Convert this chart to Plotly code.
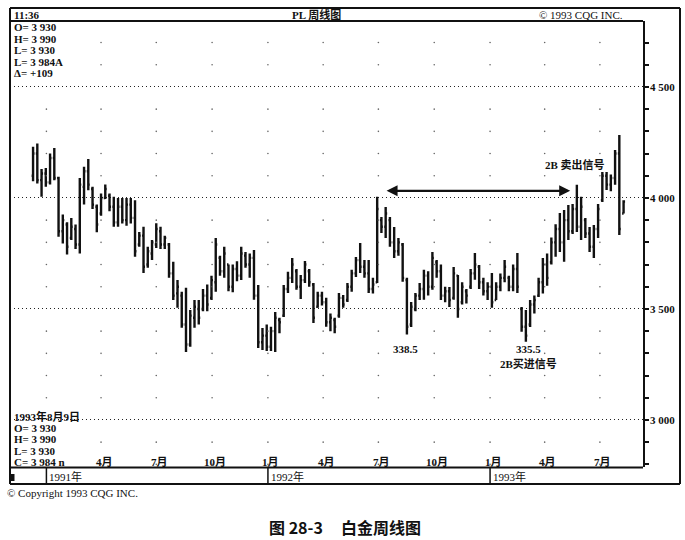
import pandas as pd
import plotly.graph_objects as go

# ---------------- data (weekly platinum) ----------------
start_date = "1990-12-10"
n_weeks = 140

high = [4230, 4245, 4130, 4135, 4200, 4225, 4095, 3925, 3890, 3910,
        3880, 4090, 4140, 4175, 4050, 3970, 4020, 4060, 4020, 4005,
        4000, 4000, 4000, 4000, 3990, 3847, 3870, 3780, 3810, 3886,
        3870, 3830, 3797, 3712, 3630, 3577, 3595, 3495, 3540, 3540,
        3590, 3610, 3650, 3820, 3740, 3780, 3700, 3700, 3715, 3780,
        3757, 3750, 3766, 3608, 3414, 3430, 3420, 3486, 3460, 3608,
        3667, 3730, 3680, 3653, 3716, 3680, 3617, 3577, 3577, 3550,
        3480, 3460, 3572, 3563, 3617, 3676, 3734, 3797, 3720, 3720,
        3640, 4005, 3914, 3959, 3914, 3869, 3820, 3797, 3640, 3531,
        3572, 3617, 3676, 3670, 3757, 3720, 3700, 3600, 3599, 3689,
        3653, 3620, 3590, 3680, 3752, 3698, 3640, 3620, 3662, 3620,
        3660, 3720, 3650, 3700, 3752, 3509, 3495, 3540, 3560, 3640,
        3730, 3750, 3822, 3882, 3932, 3946, 3968, 3973, 4059, 4005,
        3910, 3869, 3878, 3973, 4117, 4117, 4105, 4216, 4284, 3990]
low = [4075, 4065, 4005, 4050, 4060, 4080, 3825, 3795, 3745, 3810,
       3770, 3750, 3970, 4035, 3950, 3845, 3920, 3995, 3940, 3870,
       3870, 3885, 3875, 3885, 3735, 3780, 3662, 3685, 3720, 3775,
       3770, 3770, 3640, 3540, 3505, 3415, 3306, 3330, 3415, 3430,
       3490, 3490, 3540, 3577, 3650, 3640, 3580, 3575, 3625, 3630,
       3685, 3640, 3541, 3324, 3315, 3310, 3310, 3306, 3390, 3464,
       3572, 3617, 3586, 3545, 3617, 3600, 3437, 3505, 3515, 3420,
       3400, 3390, 3460, 3505, 3531, 3577, 3644, 3662, 3640, 3572,
       3570, 3617, 3842, 3820, 3780, 3730, 3740, 3622, 3385, 3419,
       3490, 3540, 3541, 3560, 3586, 3640, 3540, 3530, 3509, 3541,
       3460, 3520, 3525, 3590, 3631, 3590, 3560, 3540, 3505, 3540,
       3580, 3620, 3580, 3580, 3572, 3397, 3352, 3419, 3480, 3554,
       3570, 3605, 3700, 3735, 3757, 3712, 3811, 3838, 3847, 3811,
       3820, 3757, 3730, 3820, 3982, 4036, 4030, 4059, 3833, 3930]
open_ = [4100, 4200, 4080, 4110, 4070, 4180, 4090, 3850, 3880, 3820,
         3860, 3790, 4050, 4120, 4040, 3960, 3930, 4000, 4010, 3960,
         3890, 3960, 3900, 3970, 3910, 3790, 3830, 3700, 3750, 3790,
         3850, 3790, 3790, 3660, 3570, 3560, 3430, 3340, 3460, 3500,
         3500, 3560, 3550, 3620, 3730, 3670, 3700, 3600, 3680, 3650,
         3740, 3700, 3730, 3560, 3350, 3380, 3330, 3400, 3450, 3470,
         3590, 3640, 3670, 3600, 3630, 3670, 3610, 3510, 3560, 3530,
         3440, 3450, 3470, 3550, 3540, 3600, 3660, 3720, 3690, 3660,
         3590, 3620, 3900, 3870, 3900, 3800, 3760, 3790, 3630, 3430,
         3500, 3560, 3590, 3650, 3600, 3710, 3670, 3560, 3580, 3550,
         3650, 3530, 3580, 3600, 3660, 3690, 3620, 3580, 3600, 3540,
         3600, 3640, 3640, 3600, 3680, 3500, 3420, 3430, 3520, 3560,
         3620, 3700, 3710, 3800, 3860, 3800, 3900, 3850, 3950, 3870,
         3900, 3840, 3780, 3860, 3990, 4100, 4060, 4090, 4200, 3930]
close = [4200, 4080, 4110, 4070, 4180, 4090, 3850, 3900, 3780, 3870,
         3790, 4060, 4120, 4060, 3970, 3880, 4000, 4040, 3960, 3890,
         3960, 3900, 3970, 3910, 3760, 3830, 3690, 3760, 3800, 3860,
         3790, 3820, 3660, 3560, 3600, 3430, 3340, 3470, 3510, 3460,
         3560, 3520, 3630, 3790, 3670, 3750, 3600, 3680, 3650, 3750,
         3700, 3730, 3560, 3350, 3380, 3330, 3400, 3460, 3440, 3590,
         3640, 3700, 3600, 3630, 3700, 3620, 3460, 3560, 3530, 3440,
         3460, 3420, 3550, 3520, 3600, 3660, 3720, 3690, 3660, 3590,
         3610, 3950, 3870, 3930, 3800, 3760, 3800, 3640, 3420, 3510,
         3560, 3590, 3650, 3600, 3730, 3670, 3560, 3580, 3540, 3660,
         3500, 3600, 3560, 3660, 3700, 3620, 3580, 3600, 3530, 3600,
         3640, 3690, 3600, 3680, 3600, 3420, 3380, 3520, 3540, 3620,
         3700, 3640, 3800, 3860, 3800, 3900, 3850, 3950, 3870, 3960,
         3840, 3780, 3860, 3950, 4100, 4060, 4090, 4200, 3860, 3984]

y_tick_vals = [3000, 3500, 4000, 4500]
y_tick_text = ["3 000", "3 500", "4 000", "4 500"]

quarter_dates = ["1991-01-01", "1991-04-01", "1991-07-01", "1991-10-01",
                 "1992-01-01", "1992-04-01", "1992-07-01", "1992-10-01",
                 "1993-01-01", "1993-04-01", "1993-07-01"]
month_label_dates = quarter_dates[1:]
month_labels = ["4月", "7月", "10月", "1月", "4月", "7月", "10月", "1月", "4月", "7月"]
year_dates = ["1991-01-01", "1992-01-01", "1993-01-01"]
year_labels = ["1991年", "1992年", "1993年"]
dot_levels = [2800, 2900, 3100, 3200, 3300, 3400, 3600, 3700, 3800, 3900,
              4100, 4200, 4300, 4400, 4600, 4700]

info_top = ["O= 3 930", "H= 3 990", "L= 3 930", "L= 3 984A", "Δ= +109"]
info_bottom = ["1993年8月9日", "O= 3 930", "H= 3 990", "L= 3 930", "C= 3 984 n"]

dates = pd.date_range(start_date, periods=n_weeks, freq="7D")

# ---------------- geometry helpers ----------------
W, H = 685, 540
def px(x):
    return x / W
def py(y):
    return 1 - y / H

SERIF = "Liberation Serif, Noto Sans CJK SC, serif"
CJK = "Noto Sans CJK SC, sans-serif"
INK = "#111111"

fig = go.Figure()

# sparse vertical dot grid at quarter starts
dot_x, dot_y = [], []
for d in quarter_dates:
    for lv in dot_levels:
        dot_x.append(d)
        dot_y.append(lv)
fig.add_trace(go.Scatter(x=dot_x, y=dot_y, mode="markers",
                         marker=dict(size=1.6, color="#666666"),
                         hoverinfo="skip", showlegend=False))

fig.add_trace(go.Ohlc(x=dates, open=open_, high=high, low=low, close=close,
                      increasing=dict(line=dict(color=INK, width=2.4)),
                      decreasing=dict(line=dict(color=INK, width=2.4)),
                      tickwidth=0.35, showlegend=False, hoverinfo="skip"))

fig.update_layout(
    width=W, height=H,
    margin=dict(l=0, r=0, t=0, b=0),
    paper_bgcolor="white", plot_bgcolor="white",
    showlegend=False,
    xaxis=dict(type="date", range=["1990-11-02", "1993-09-10"],
               domain=[px(10), px(643)], showgrid=False, showticklabels=False,
               ticks="", zeroline=False, showline=False,
               rangeslider=dict(visible=False), fixedrange=True),
    yaxis=dict(range=[2788, 4797], domain=[py(467), py(21)], side="right",
               tickvals=y_tick_vals, ticktext=y_tick_text, showticklabels=False,
               ticks="outside", ticklen=4, tickwidth=2, tickcolor=INK,
               minor=dict(dtick=100, ticks="outside", ticklen=4, tickwidth=1.5,
                          tickcolor=INK, showgrid=False),
               showgrid=True, gridcolor="#222222", griddash="1px,3px", gridwidth=1,
               zeroline=False, showline=True, linecolor=INK, linewidth=2,
               fixedrange=True),
)

shapes = []
def line(x0, y0, x1, y1, w=1.8):
    shapes.append(dict(type="line", xref="paper", yref="paper",
                       x0=px(x0), y0=py(y0), x1=px(x1), y1=py(y1),
                       line=dict(color=INK, width=w)))

# frames
line(10, 8, 680, 8, 2)
line(680, 8, 680, 484, 2)
line(10, 484, 680, 484, 2)
line(10, 8, 10, 484, 2)
line(10, 21, 643, 21, 2)
line(10, 467.5, 643, 467.5, 1.8)
shapes.append(dict(type="rect", xref="paper", yref="paper",
                   x0=px(11), y0=py(481), x1=px(14.5), y1=py(474),
                   fillcolor=INK, line=dict(width=0)))
for d in year_dates:
    shapes.append(dict(type="line", xref="x", yref="paper", x0=d, x1=d,
                       y0=py(467.5), y1=py(484), line=dict(color=INK, width=1.5)))
fig.update_layout(shapes=shapes)

ann = []
def text(x, y, s, size=11.5, anchor="left", family=SERIF, xref="paper", yref="paper",
         bold=True, **kw):
    ann.append(dict(x=x, y=y, xref=xref, yref=yref,
                    text=("<b>%s</b>" % s) if bold else s, showarrow=False,
                    xanchor=anchor, yanchor="middle",
                    font=dict(family=family, size=size, color=INK), **kw))

# header
text(px(12), py(14.5), "11:36", size=11)
text(px(316), py(14.5), "PL 周线图", anchor="center", size=11)
text(px(537), py(14.5), "© 1993 CQG INC.", size=11, bold=False)

for i, s in enumerate(info_top):
    text(px(12), py(27 + 11.6 * i), s, size=11)
for i, s in enumerate(info_bottom):
    text(px(12), py(416 + 11.5 * i), s, size=11)

# right axis labels
for v, s in zip(y_tick_vals, y_tick_text):
    text(px(648), v, s, yref="y", size=11)

for d, s in zip(month_label_dates, month_labels):
    text(d, py(462), s, anchor="center", xref="x", xshift=3, size=11)
for d, s in zip(year_dates, year_labels):
    text(d, py(476.5), s, anchor="left", xref="x", xshift=1, size=11, bold=False)

text(px(5), py(493), "© Copyright 1993 CQG INC.", size=11, bold=False)

# chart annotations
text("1992-08-14", 3318, "338.5", anchor="center", xref="x", yref="y", size=11)
text("1993-03-05", 3318, "335.5", anchor="center", xref="x", yref="y", size=11)
text("1993-03-05", 3252, "2B买进信号", anchor="center", xref="x", yref="y", size=11)
text("1993-05-21", 4150, "2B 卖出信号", anchor="center", xref="x", yref="y", size=11)

ann.append(dict(x="1993-05-13", y=4032, ax="1992-07-12", ay=4032,
                xref="x", yref="y", axref="x", ayref="y", text="",
                showarrow=True, arrowhead=2, startarrowhead=2, arrowside="end+start",
                arrowsize=1, startarrowsize=1, arrowwidth=2.2, arrowcolor=INK))

# caption
text(px(267), py(527), "图 28-3", size=16, family=CJK)
text(px(339), py(527), "白金周线图", size=16, family=CJK)

fig.update_layout(annotations=ann)
fig.write_html("out.html", config={"displayModeBar": False},
               post_script="document.body.style.margin='0';")
